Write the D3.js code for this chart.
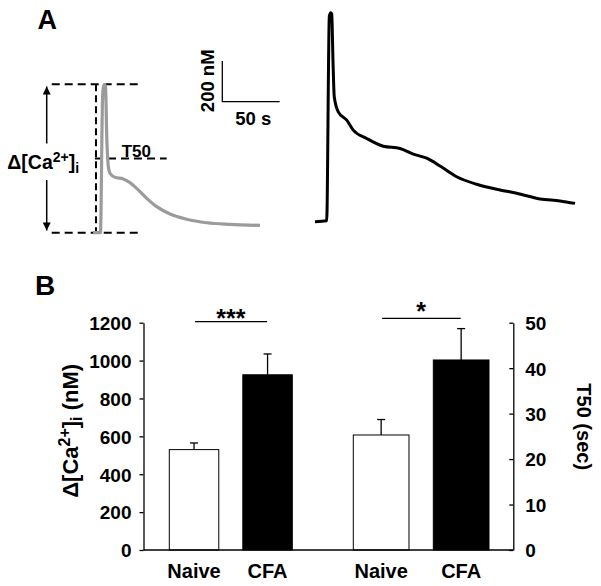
<!DOCTYPE html>
<html><head><meta charset="utf-8">
<script src="https://cdn.jsdelivr.net/npm/d3@7"></script>
<style>
body{margin:0;background:#fff}
text{font-family:"Liberation Sans",Arial,sans-serif;font-weight:bold;fill:#000}
</style>
</head><body>
<svg id="c" width="601" height="586"></svg>
<script>
// ---------- DATA ----------
// Panel A: example traces (time in s, Δ[Ca2+] in nM above baseline)
const grayTime = [0, 6.5, 8.3, 9.2, 10.1, 10.9, 12.0, 13.4, 14.8, 19.2, 26.4, 32.3, 38.1, 46.9, 55.6, 67.2, 81.8, 99.2, 119.5, 145.7];
const grayCa   = [0, 0, 652, 721, 729, 721, 472, 324, 292, 272, 264, 246, 218, 169, 128, 92, 66, 49, 41, 36];
const blackTime = [0, 10.2, 12.5, 13.7, 14.6, 15.7, 16.8, 20.3, 27.7, 33.4, 45.1, 59.6, 74.2, 85.8, 97.5, 109.1, 123.6, 141.1, 161.4, 176.0, 196.3, 213.8, 226.9];
const blackCa   = [0, 5, 1010, 1027, 1020, 790, 614, 540, 499, 450, 409, 371, 360, 332, 312, 274, 221, 184, 156, 140, 112, 102, 90];
const stimTime = 2.6;           // vertical dashed marker on the gray trace
const scaleBarTime = 50;        // s
const scaleBarCa = 200;         // nM

// Panel B
const groups = ["Naive", "CFA"];
const caMean = [530, 925];
const caSem  = [35, 110];
const t50Mean = [25.3, 41.8];
const t50Sem  = [3.4, 6.9];
const caTicks  = [0, 200, 400, 600, 800, 1000, 1200];
const t50Ticks = [0, 10, 20, 30, 40, 50];
const caSig = "***";
const t50Sig = "*";

// ---------- DRAW ----------
const svg = d3.select("#c");
const FS = 19;

// Panel labels
svg.append("text").attr("x", 37.5).attr("y", 28.5).style("font-size", "27px").text("A");
svg.append("text").attr("x", 35).attr("y", 295).style("font-size", "28px").text("B");

// shared trace scales (px offsets)
const tS = d3.scaleLinear().domain([0, 50]).range([0, 57.3]);
const cS = d3.scaleLinear().domain([0, 200]).range([0, -40.7]);

const line = (curve) => d3.line().x(d => tS(d[0])).y(d => cS(d[1])).curve(curve);

// gray trace
const gG = svg.append("g").attr("transform", "translate(93,232.7)");
const grayPts = grayTime.map((t, i) => [t, grayCa[i]]);
const peak = d3.max(grayCa), base = d3.min(grayCa), half = (peak + base) / 2;
const dashStyle = sel => sel.attr("stroke", "#000").attr("stroke-width", 2).attr("stroke-dasharray", "8,5").attr("fill", "none");
gG.append("line").attr("x1", -41.3).attr("x2", 47).attr("y1", cS(peak)).attr("y2", cS(peak)).call(dashStyle);
gG.append("line").attr("x1", -41.3).attr("x2", 47).attr("y1", cS(base)).attr("y2", cS(base)).call(dashStyle);
gG.append("line").attr("x1", tS(stimTime)).attr("x2", tS(stimTime)).attr("y1", cS(peak)).attr("y2", cS(base))
  .call(dashStyle).attr("stroke-dasharray", "7,4");
gG.append("line").attr("x1", 2).attr("x2", 73.7).attr("y1", cS(half)).attr("y2", cS(half)).call(dashStyle);
gG.append("path").datum(grayPts).attr("d", line(d3.curveMonotoneX))
  .attr("fill", "none").attr("stroke", "#9b9b9b").attr("stroke-width", 3.2).attr("stroke-linejoin", "round");
gG.append("text").attr("x", 28.7).attr("y", cS(half) - 1.5).style("font-size", "17px").text("T50");

// double arrow
const ax = 46.7;
const defs = svg.append("defs");
defs.append("marker").attr("id", "ah").attr("viewBox", "0 0 10 10").attr("refX", 10).attr("refY", 5)
  .attr("markerWidth", 11).attr("markerHeight", 8).attr("markerUnits", "userSpaceOnUse").attr("orient", "auto")
  .append("path").attr("d", "M0,0 L10,5 L0,10 z").attr("fill", "#000");
svg.append("line").attr("x1", ax).attr("x2", ax).attr("y1", 143.5).attr("y2", 86.5)
  .attr("stroke", "#000").attr("stroke-width", 1.5).attr("marker-end", "url(#ah)");
svg.append("line").attr("x1", ax).attr("x2", ax).attr("y1", 180).attr("y2", 230.5)
  .attr("stroke", "#000").attr("stroke-width", 1.5).attr("marker-end", "url(#ah)");

// Δ[Ca2+]i label
function caLabel(sel, supSize, supRise, withUnit) {
  sel.append("tspan").text("Δ[Ca");
  sel.append("tspan").attr("dy", -supRise).style("font-size", supSize + "px").text("2+");
  sel.append("tspan").attr("dy", supRise).text("]");
  sel.append("tspan").attr("dy", 4).style("font-size", supSize + "px").text("i");
  if (withUnit) sel.append("tspan").attr("dy", -4).text(" (nM)");
}
svg.append("text").attr("x", 7.3).attr("y", 169.3).style("font-size", "19.5px").call(caLabel, 14, 7, false);

// scale bar
const sb = svg.append("g").attr("transform", "translate(222.3,101.7)");
sb.append("path").attr("d", `M0,${cS(scaleBarCa)} L0,0 L${tS(scaleBarTime)},0`)
  .attr("fill", "none").attr("stroke", "#000").attr("stroke-width", 1.3);
svg.append("text").attr("transform", "translate(213.5,80.8) rotate(-90)").attr("text-anchor", "middle")
  .style("font-size", "18.5px").text(scaleBarCa + " nM");
svg.append("text").attr("x", 253.3).attr("y", 124.5).attr("text-anchor", "middle")
  .style("font-size", "18.5px").text(scaleBarTime + " s");

// black trace
const bG = svg.append("g").attr("transform", "translate(315,221.7)");
bG.append("path").datum(blackTime.map((t, i) => [t, blackCa[i]])).attr("d", line(d3.curveMonotoneX))
  .attr("fill", "none").attr("stroke", "#000").attr("stroke-width", 3).attr("stroke-linejoin", "round");

// ---------- Panel B ----------
const y0 = 550, yTop = 322.7, xL = 143.5, xR = 513.3;
const yCa = d3.scaleLinear().domain([0, 1200]).range([y0, yTop]);
const yT = d3.scaleLinear().domain([0, 50]).range([y0, yTop]);
const xA = d3.scaleBand().domain(groups).range([169.3, 292.3]).paddingInner(0.327).paddingOuter(0);
const xB = d3.scaleBand().domain(groups).range([353.3, 489]).paddingInner(0.304).paddingOuter(0);
const fills = ["#fff", "#000"];

function drawGroup(x, y, mean, sem, sig, sigLineY, sigDy) {
  const g = svg.append("g");
  groups.forEach((k, i) => {
    const cx = x(k) + x.bandwidth() / 2;
    g.append("line").attr("x1", cx).attr("x2", cx).attr("y1", y(mean[i])).attr("y2", y(mean[i] + sem[i]))
      .attr("stroke", "#000").attr("stroke-width", 1.3);
    g.append("line").attr("x1", cx - 4).attr("x2", cx + 4).attr("y1", y(mean[i] + sem[i])).attr("y2", y(mean[i] + sem[i]))
      .attr("stroke", "#000").attr("stroke-width", 1.3);
    g.append("rect").attr("x", x(k)).attr("width", x.bandwidth()).attr("y", y(mean[i])).attr("height", y(0) - y(mean[i]))
      .attr("fill", fills[i]).attr("stroke", "#000").attr("stroke-width", 1);
  });
  const c0 = x(groups[0]) + x.bandwidth() / 2, c1 = x(groups[1]) + x.bandwidth() / 2;
  g.append("line").attr("x1", c0 + 1).attr("x2", c1 - 0.5).attr("y1", sigLineY).attr("y2", sigLineY)
    .attr("stroke", "#000").attr("stroke-width", 1.2);
  g.append("text").attr("x", (c0 + c1) / 2).attr("y", sigLineY + sigDy).attr("text-anchor", "middle")
    .style("font-size", "25px").text(sig);
  const xa = d3.axisBottom(x).tickSize(0).tickPadding(14);
  const ga = svg.append("g").attr("transform", `translate(0,${y0})`).call(xa);
  ga.select(".domain").remove();
  ga.selectAll("text").style("font-size", "20px").attr("fill", "#000");
}
drawGroup(xA, yCa, caMean, caSem, caSig, 321.7, 5.2);
drawGroup(xB, yT, t50Mean, t50Sem, t50Sig, 318.3, 1.2);

// baseline
svg.append("line").attr("x1", xL).attr("x2", xR).attr("y1", y0).attr("y2", y0).attr("stroke", "#000").attr("stroke-width", 1.3);

// axes
const axL = svg.append("g").attr("transform", `translate(${xL},0)`)
  .call(d3.axisLeft(yCa).tickValues(caTicks).tickFormat(d3.format("d")).tickSizeInner(4).tickSizeOuter(0).tickPadding(8));
const axR = svg.append("g").attr("transform", `translate(${xR},0)`)
  .call(d3.axisRight(yT).tickValues(t50Ticks).tickFormat(d3.format("d")).tickSizeInner(-4).tickSizeOuter(0).tickPadding(12));
[axL, axR].forEach(a => {
  a.selectAll("text").style("font-size", FS + "px").attr("fill", "#000").attr("dy", "0.36em");
  a.selectAll("line,path").attr("stroke", "#000").attr("stroke-width", 1.3);
});

// axis titles
svg.append("text").attr("transform", "translate(78.3,430.8) rotate(-90)").attr("text-anchor", "middle")
  .style("font-size", "22px").call(caLabel, 16, 8, true);
svg.append("text").attr("transform", "translate(576.7,426.7) rotate(90)").attr("text-anchor", "middle")
  .style("font-size", "20px").text("T50 (sec)");
</script>
</body></html>
